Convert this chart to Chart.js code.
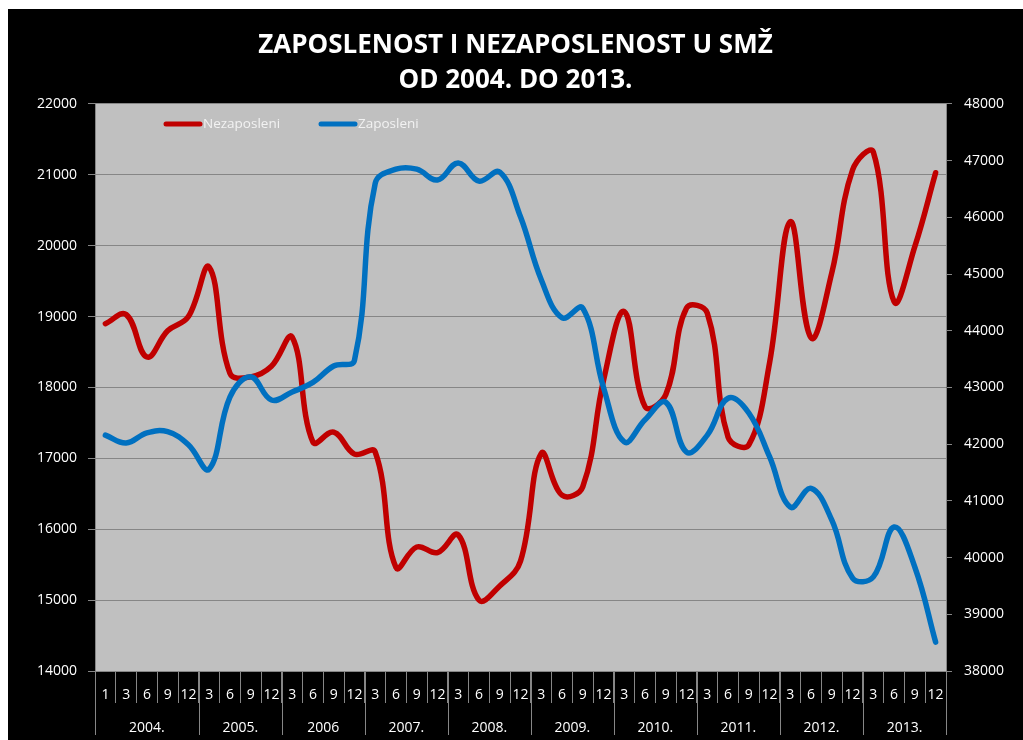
<!DOCTYPE html>
<html>
<head>
<meta charset="utf-8">
<script src="https://cdn.jsdelivr.net/npm/chart.js@4.4.1/dist/chart.umd.min.js"></script>
<style>
  html, body { margin: 0; padding: 0; background: #fff; }
  #wrap { position: absolute; left: 8px; top: 9px; width: 1015px; height: 731px; background: #000; }
</style>
</head>
<body>
<div id="wrap"><canvas id="chart"></canvas></div>
<script>
// months per year (2004 starts with January)
const months = [
  "1", "3", "6", "9", "12",
  "3", "6", "9", "12",
  "3", "6", "9", "12",
  "3", "6", "9", "12",
  "3", "6", "9", "12",
  "3", "6", "9", "12",
  "3", "6", "9", "12",
  "3", "6", "9", "12",
  "3", "6", "9", "12",
  "3", "6", "9", "12",
];
const years = ["2004.", "2005.", "2006", "2007.", "2008.", "2009.", "2010.", "2011.", "2012.", "2013."];
const yearSizes = [5, 4, 4, 4, 4, 4, 4, 4, 4, 4];

const nezaposleni = [
  18900, 19030, 18430, 18800, 19000,
  19700, 18200, 18150, 18300,
  18710, 17230, 17370, 17060,
  17090, 15460, 15750, 15670,
  15920, 15000, 15200, 15550,
  17070, 16480, 16600, 18100,
  19070, 17730, 17900, 19120,
  19050, 17300, 17190, 18350,
  20340, 18700, 19620, 21070,
  21320, 19210, 19990, 21030,
];
const zaposleni = [
  42160, 42020, 42200, 42220, 41990,
  41560, 42830, 43190, 42780,
  42920, 43090, 43380, 43480,
  46600, 46850, 46850, 46660,
  46960, 46640, 46800, 46010,
  44900, 44230, 44400, 43000,
  42040, 42430, 42740, 41860,
  42160, 42810, 42550, 41780,
  40890, 41220, 40660, 39640,
  39660, 40540, 39830, 38510,
];

Chart.defaults.font.family = "'Open Sans', sans-serif";
Chart.defaults.color = "#ffffff";

const gridGrey = "#868686";

const plotBackground = {
  id: "plotBackground",
  beforeDraw(chart) {
    const { ctx, chartArea: a } = chart;
    ctx.save();
    ctx.fillStyle = "#c0c0c0";
    ctx.fillRect(a.left, a.top, a.right - a.left, a.bottom - a.top);
    ctx.restore();
  },
};

// second row of the category axis: years with separators
const yearRow = {
  id: "yearRow",
  afterDraw(chart) {
    const { ctx } = chart;
    const x = chart.scales.x;
    const slot = x.getPixelForValue(1) - x.getPixelForValue(0);
    let start = 0;
    ctx.save();
    ctx.strokeStyle = gridGrey;
    ctx.lineWidth = 1;
    ctx.fillStyle = "#ffffff";
    ctx.font = "14px 'Open Sans', sans-serif";
    ctx.textAlign = "center";
    ctx.textBaseline = "middle";
    yearSizes.forEach((n, k) => {
      const left = x.getPixelForValue(start) - slot / 2;
      const right = x.getPixelForValue(start + n - 1) + slot / 2;
      ctx.beginPath();
      ctx.moveTo(Math.round(left) + 0.5, x.top);
      ctx.lineTo(Math.round(left) + 0.5, x.top + 64);
      if (k === yearSizes.length - 1) {
        ctx.moveTo(Math.round(right) + 0.5, x.top);
        ctx.lineTo(Math.round(right) + 0.5, x.top + 64);
      }
      ctx.stroke();
      ctx.fillText(years[k], (left + right) / 2, x.top + 57);
      start += n;
    });
    ctx.restore();
  },
};

// legend drawn inside the plot area
const innerLegend = {
  id: "innerLegend",
  afterDatasetsDraw(chart) {
    const { ctx, chartArea: a } = chart;
    ctx.save();
    ctx.font = "13.5px 'Open Sans', sans-serif";
    ctx.textBaseline = "middle";
    ctx.fillStyle = "#f2f2f2";
    chart.data.datasets.forEach((ds, i) => {
      const x0 = a.left + 71 + i * 155;
      const y0 = a.top + 20;
      ctx.strokeStyle = ds.borderColor;
      ctx.lineWidth = 5;
      ctx.lineCap = "round";
      ctx.beginPath();
      ctx.moveTo(x0, y0);
      ctx.lineTo(x0 + 34, y0);
      ctx.stroke();
      ctx.fillText(ds.label, x0 + 37, y0);
    });
    ctx.restore();
  },
};

const plain = (v) => String(v);

const ctx = document.getElementById("chart").getContext("2d");

new Chart(ctx, {
  type: "line",
  data: {
    labels: months,
    datasets: [
      {
        label: "Nezaposleni",
        data: nezaposleni,
        yAxisID: "y",
        borderColor: "#c00000",
        borderWidth: 5.5,
        tension: 0.4,
        pointRadius: 0,
        borderCapStyle: "round",
        borderJoinStyle: "round",
        order: 1,
      },
      {
        label: "Zaposleni",
        data: zaposleni,
        yAxisID: "y1",
        borderColor: "#0070c0",
        borderWidth: 5.5,
        tension: 0.4,
        pointRadius: 0,
        borderCapStyle: "round",
        borderJoinStyle: "round",
        order: 0,
      },
    ],
  },
  options: {
    responsive: true,
    maintainAspectRatio: false,
    animation: false,
    layout: { padding: 0 },
    plugins: {
      legend: { display: false },
      tooltip: { enabled: false },
      title: {
        display: true,
        text: ["ZAPOSLENOST I NEZAPOSLENOST U SMŽ", "OD 2004. DO 2013."],
        color: "#ffffff",
        font: { size: 26, weight: "bold", lineHeight: 1.346 },
        padding: { top: 19, bottom: 6 },
      },
    },
    scales: {
      x: {
        offset: true,
        afterFit(scale) { scale.height = 69; },
        grid: {
          offset: true,
          drawOnChartArea: false,
          tickLength: 32,
          color: gridGrey,
        },
        border: { color: gridGrey },
        ticks: {
          autoSkip: false,
          maxRotation: 0,
          minRotation: 0,
          padding: -16,
          color: "#ffffff",
          font: { size: 14 },
        },
      },
      y: {
        position: "left",
        min: 14000,
        max: 22000,
        afterFit(scale) { scale.width = 87; },
        grid: { color: gridGrey, tickLength: 7 },
        border: { color: gridGrey },
        ticks: { stepSize: 1000, padding: 11, color: "#ffffff", font: { size: 14 }, callback: plain },
      },
      y1: {
        position: "right",
        min: 38000,
        max: 48000,
        afterFit(scale) { scale.width = 77; },
        grid: { drawOnChartArea: false, color: gridGrey, tickLength: 6 },
        border: { color: gridGrey },
        ticks: { stepSize: 1000, padding: 12, color: "#ffffff", font: { size: 14 }, callback: plain },
      },
    },
  },
  plugins: [plotBackground, yearRow, innerLegend],
});
</script>
</body>
</html>
